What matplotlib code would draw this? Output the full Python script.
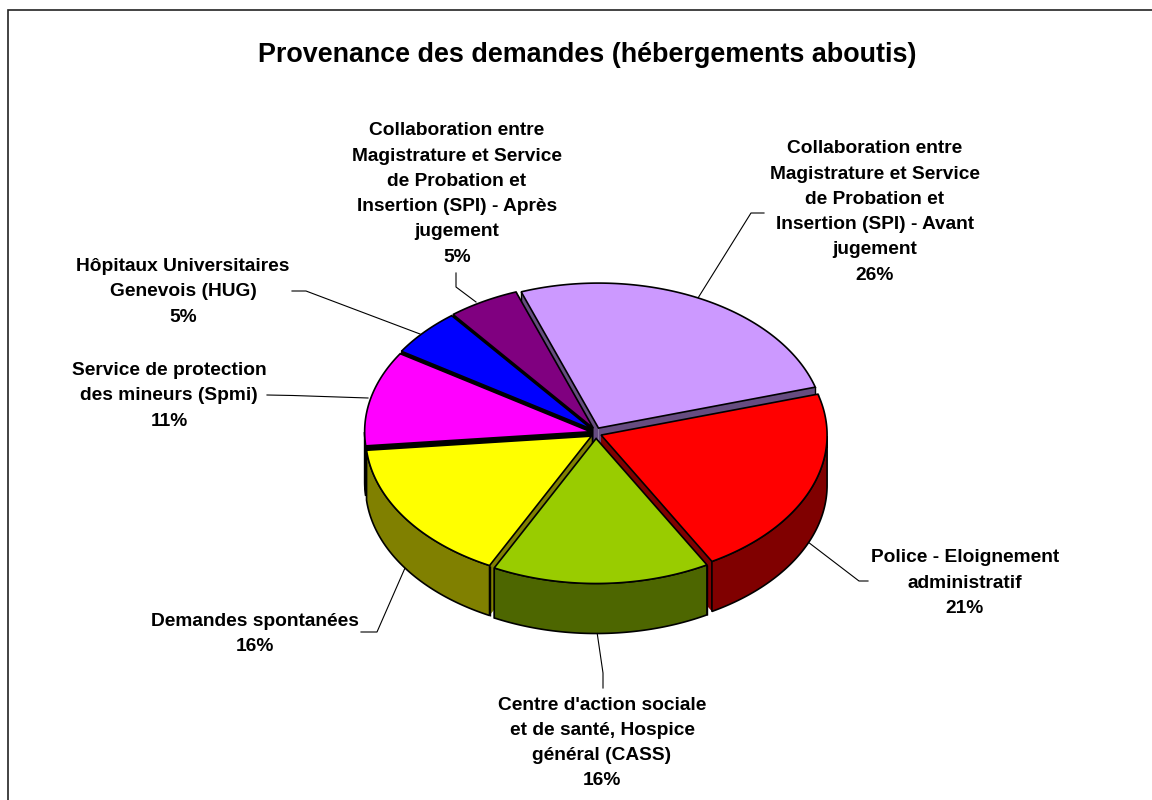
import numpy as np
import matplotlib.pyplot as plt
from matplotlib.patches import Polygon, Rectangle

# slices, clockwise from the top left
categories = [
    'Collaboration entre\nMagistrature et Service\nde Probation et\nInsertion (SPI) - Avant\njugement',
    'Police - Eloignement\nadministratif',
    "Centre d'action sociale\net de santé, Hospice\ngénéral (CASS)",
    'Demandes spontanées',
    'Service de protection\ndes mineurs (Spmi)',
    'Hôpitaux Universitaires\nGenevois (HUG)',
    'Collaboration entre\nMagistrature et Service\nde Probation et\nInsertion (SPI) - Après\njugement',
]
values = [26.0, 21.4, 15.6, 16.0, 10.6, 5.3, 5.1]
top_colors = ['#CC99FF', '#FF0000', '#99CC00', '#FFFF00', '#FF00FF', '#0000FF', '#800080']
side_colors = ['#664C80', '#800000', '#4D6600', '#808000', '#000000', '#000000', '#000000']
title = 'Provenance des demandes (hébergements aboutis)'

# label centres in pixels
label_pos = [(875, 212), (965, 583), (602, 743), (255, 634), (169, 396), (183, 292), (457, 194)]

# leader lines in pixels
leaders = [
    [(764, 213), (751, 213), (698, 298)],
    [(868, 581), (859, 581), (808, 542)],
    [(603, 688), (603, 673), (597, 632)],
    [(361, 632), (377, 632), (405, 568)],
    [(267, 395), (293, 395.5), (368, 398)],
    [(292, 291), (306, 291), (420, 334)],
    [(456, 273), (456, 287), (476, 302)],
]

CX, CY = 596, 433
RX, RY = 226, 145
DEPTH = 50
EXPLODE = 5.5
START = 110.0

plt.rcParams['font.family'] = ['Liberation Sans', 'DejaVu Sans']

fig = plt.figure(figsize=(11.52, 8.0), dpi=100)
ax = fig.add_axes([0, 0, 1, 1])
ax.set_xlim(0, 1152)
ax.set_ylim(800, 0)
ax.axis('off')

ax.add_patch(Rectangle((7.5, 9.5), 1200, 900, fc='white', ec='#222222', lw=1.2, zorder=0))


def point(cx, cy, t):
    return cx + RX * np.cos(np.radians(t)), cy - RY * np.sin(np.radians(t))


# angles of every slice
shares = np.array(values) / np.sum(values) * 360
ends = START - np.cumsum(shares)
starts = ends + shares

# back slices first, the ones at the front last
mids = (starts + ends) / 2
order = np.argsort(-np.sin(np.radians(mids)))

for i in order:
    mid = np.radians(mids[i])
    cx = CX + EXPLODE * np.cos(mid)
    cy = CY - EXPLODE * np.sin(mid)
    ts = np.linspace(starts[i], ends[i], 120)
    arc = np.array([point(cx, cy, t) for t in ts])
    apex = np.array([cx, cy])
    down = np.array([0, DEPTH])

    # cut faces, only the outer upright gets a line
    for tip in (arc[0], arc[-1]):
        face = [apex, tip, tip + down, apex + down]
        ax.add_patch(Polygon(face, closed=True, fc=side_colors[i], ec='none', zorder=2))
        ax.add_patch(Polygon([tip, tip + down], closed=False, fill=False, ec='black', lw=1.0, zorder=2))

    # outer wall, only the part that faces us
    low = np.sin(np.radians(ts)) < 0
    if low.any():
        part = arc[low]
        wall = np.vstack([part, (part + down)[::-1]])
        ax.add_patch(Polygon(wall, closed=True, fc=side_colors[i], ec='black', lw=1.2, zorder=2))

    top = np.vstack([apex, arc])
    ax.add_patch(Polygon(top, closed=True, fc=top_colors[i], ec='black', lw=1.2, zorder=2))

for line in leaders:
    xs, ys = zip(*line)
    ax.plot(xs, ys, color='black', lw=0.8, zorder=1)

for name, value, (x, y) in zip(categories, values, label_pos):
    ax.text(x, y, f'{name}\n{round(value)}%', ha='center', va='center',
            fontsize=13.8, fontweight='bold', linespacing=1.64, color='black', zorder=3)

ax.text(587.5, 54.5, title, ha='center', va='center', fontsize=19.4, fontweight='bold', color='black')

fig.savefig('out.png', dpi=100)
